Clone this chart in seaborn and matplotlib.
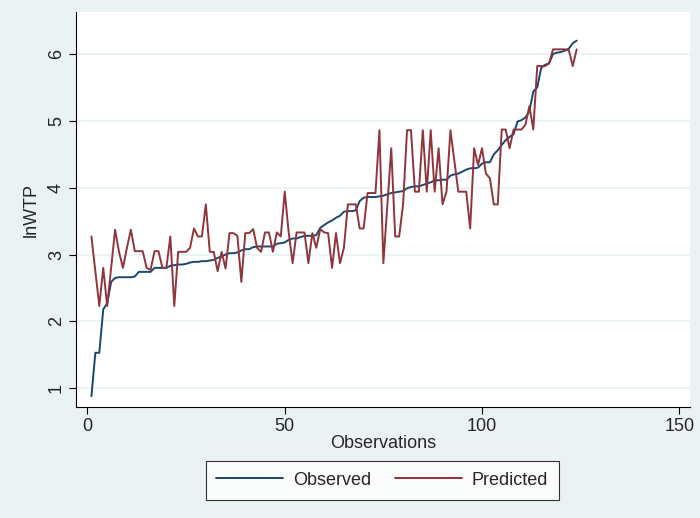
import matplotlib
matplotlib.use("Agg")
import matplotlib.pyplot as plt
import numpy as np
import pandas as pd
import seaborn as sns

# observed lnWTP (sorted) and model predictions
observed = [
    0.88, 1.53, 1.53, 2.18, 2.27, 2.59, 2.65, 2.66, 2.66, 2.66,
    2.66, 2.67, 2.74, 2.74, 2.74, 2.74, 2.80, 2.80, 2.80, 2.80,
    2.83, 2.84, 2.85, 2.85, 2.86, 2.88, 2.89, 2.89, 2.90, 2.90,
    2.91, 2.92, 2.95, 2.97, 3.00, 3.02, 3.02, 3.03, 3.06, 3.08,
    3.08, 3.11, 3.12, 3.12, 3.12, 3.12, 3.12, 3.16, 3.17, 3.18,
    3.22, 3.24, 3.24, 3.26, 3.28, 3.28, 3.28, 3.29, 3.40, 3.44,
    3.48, 3.51, 3.55, 3.58, 3.64, 3.65, 3.65, 3.66, 3.80, 3.85,
    3.86, 3.86, 3.86, 3.87, 3.88, 3.90, 3.92, 3.93, 3.94, 3.95,
    3.99, 4.01, 4.02, 4.02, 4.04, 4.06, 4.08, 4.11, 4.11, 4.12,
    4.12, 4.18, 4.20, 4.21, 4.24, 4.27, 4.29, 4.29, 4.30, 4.36,
    4.38, 4.38, 4.50, 4.56, 4.64, 4.71, 4.76, 4.80, 4.99, 5.01,
    5.05, 5.14, 5.44, 5.50, 5.79, 5.84, 5.86, 6.00, 6.02, 6.03,
    6.05, 6.08, 6.16, 6.20,
]
predicted = [
    3.27, 2.75, 2.23, 2.80, 2.23, 2.80, 3.37, 3.04, 2.80, 3.10,
    3.37, 3.05, 3.05, 3.05, 2.80, 2.77, 3.05, 3.05, 2.80, 2.80,
    3.27, 2.23, 3.04, 3.04, 3.04, 3.10, 3.39, 3.27, 3.27, 3.75,
    3.04, 3.04, 2.75, 3.04, 2.79, 3.32, 3.32, 3.28, 2.59, 3.32,
    3.32, 3.38, 3.10, 3.04, 3.33, 3.33, 3.04, 3.33, 3.27, 3.94,
    3.33, 2.87, 3.33, 3.33, 3.33, 2.87, 3.32, 3.10, 3.38, 3.33,
    3.32, 2.80, 3.32, 2.87, 3.10, 3.75, 3.75, 3.75, 3.39, 3.39,
    3.92, 3.92, 3.92, 4.86, 2.87, 3.73, 4.59, 3.27, 3.27, 3.75,
    4.86, 4.86, 3.94, 3.94, 4.86, 3.94, 4.86, 3.94, 4.59, 3.75,
    3.94, 4.86, 4.40, 3.94, 3.94, 3.94, 3.39, 4.59, 4.34, 4.59,
    4.21, 4.14, 3.75, 3.75, 4.87, 4.87, 4.59, 4.87, 4.87, 4.87,
    4.94, 5.22, 4.87, 5.82, 5.82, 5.82, 5.86, 6.07, 6.07, 6.07,
    6.07, 6.06, 5.82, 6.07,
]
obs = np.arange(1, len(observed) + 1)

df = pd.DataFrame({"obs": obs, "Observed": observed, "Predicted": predicted})
long = df.melt(id_vars="obs", var_name="series", value_name="lnWTP")

sns.set_style("white")
plt.rcParams["font.family"] = ["Liberation Sans", "DejaVu Sans"]

bg = "#eaf2f3"
fs = 13
fig = plt.figure(figsize=(7, 5.18), dpi=100, facecolor=bg)
ax = fig.add_axes([0.1086, 0.214, 0.877, 0.763])
ax.set_facecolor("white")

sns.lineplot(
    data=long, x="obs", y="lnWTP", hue="series",
    palette={"Observed": "#1a476f", "Predicted": "#90353b"},
    linewidth=1.4, ax=ax, legend=False,
)

ax.set_xlim(-2.9, 152.7)
ax.set_ylim(0.716, 6.63)
ax.set_xticks([0, 50, 100, 150])
ax.set_yticks([1, 2, 3, 4, 5, 6])
ax.yaxis.grid(True, color=bg, linewidth=1.2)
ax.set_axisbelow(True)
for s in ["top", "right"]:
    ax.spines[s].set_visible(False)
for s in ["left", "bottom"]:
    ax.spines[s].set_color("black")
    ax.spines[s].set_linewidth(0.8)
ax.tick_params(axis="both", direction="out", length=5, width=0.8, color="black",
               labelsize=fs, left=True, bottom=True, pad=3)
for lbl in ax.get_yticklabels():
    lbl.set_rotation(90)
    lbl.set_va("center")
ax.set_xlabel("Observations", fontsize=fs, labelpad=0)
ax.set_ylabel("lnWTP", fontsize=fs, labelpad=6)

handles = [
    plt.Line2D([], [], color="#1a476f", linewidth=1.4),
    plt.Line2D([], [], color="#90353b", linewidth=1.4),
]
leg = fig.legend(
    handles, ["Observed", "Predicted"], ncol=2, loc="center",
    bbox_to_anchor=(0.546, 0.073), frameon=True, fancybox=False,
    edgecolor="black", fontsize=fs, handlelength=3.7, handletextpad=0.55,
    columnspacing=1.3, borderpad=0.6,
)
leg.get_frame().set_linewidth(0.8)

fig.savefig("out.png", dpi=100, facecolor=bg)
